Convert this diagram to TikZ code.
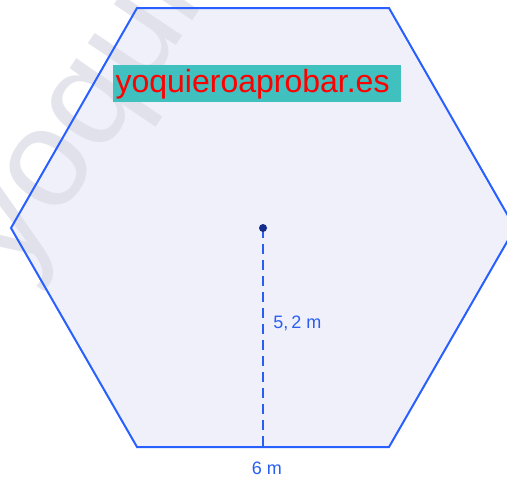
\documentclass[tikz,border=0pt]{standalone}
\usepackage{fontspec}
\setmainfont{Liberation Sans}
\definecolor{hexfill}{RGB}{240,240,250}
\definecolor{hexline}{RGB}{40,95,255}
\definecolor{dotc}{RGB}{20,45,140}
\definecolor{labc}{RGB}{40,95,240}
\definecolor{teal1}{RGB}{64,192,190}
\definecolor{wm}{RGB}{222,222,232}
\tikzset{
  lbl/.style={text=labc, font=\fontsize{13.5}{14}\selectfont, inner sep=0pt},
}
\begin{document}
\begin{tikzpicture}[x=0.75pt,y=-0.75pt]
\useasboundingbox (0,0) rectangle (507,479);
\clip (0,0) rectangle (507,479);
\fill[white] (0,0) rectangle (507,479);
% hexagon
\coordinate (c) at (263,228);
\coordinate (h1) at (137,8);
\coordinate (h2) at (389,8);
\coordinate (h3) at (515,228);
\coordinate (h4) at (389,447);
\coordinate (h5) at (137,447);
\coordinate (h6) at (11,228);
\fill[hexfill] (h1)--(h2)--(h3)--(h4)--(h5)--(h6)--cycle;
% watermark
\node[anchor=base west, rotate=56, text=wm, opacity=0.8, font=\fontsize{105}{105}\selectfont, inner sep=0pt] (wmk) at (18,280) {yoquieroaprobar.es};
\draw[hexline, line width=1.5pt, line join=miter] (h1)--(h2)--(h3)--(h4)--(h5)--(h6)--cycle;
% dashed radius
\coordinate (m) at (263,447);
\draw[labc, line width=1.5pt, dash pattern=on 7.5pt off 4.5pt] (c) -- (m);
\fill[dotc] (c) circle (3pt);
\node[lbl, anchor=west] (r) at (273,323) {5,\,2 m};
\node[lbl] (s) at (267,468) {6 m};
% banner
\node[fill=teal1, text=red, anchor=north west, minimum width=288*0.75pt, minimum height=37*0.75pt, inner sep=0pt, text width=286*0.75pt, align=left, font=\fontsize{24}{24}\selectfont] (ban) at (113,65) {\hspace*{1pt}yoquieroaprobar.es};
\end{tikzpicture}
\end{document}
